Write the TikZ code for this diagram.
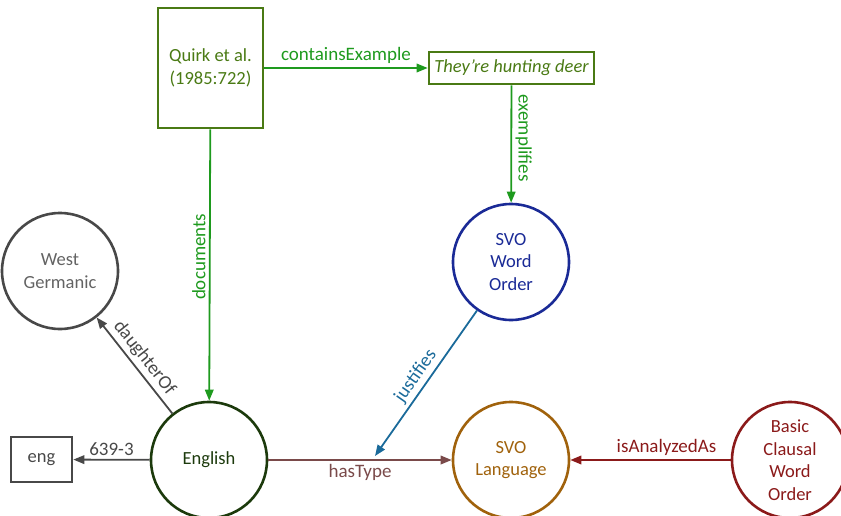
\documentclass[tikz,border=0pt]{standalone}
\usepackage{fontspec}
\setmainfont{Carlito}
\usetikzlibrary{arrows.meta}
\definecolor{olive}{HTML}{4A7A14}
\definecolor{edgegreen}{HTML}{1E9A1E}
\definecolor{grayish}{HTML}{484848}
\definecolor{navy}{HTML}{1A2A96}
\definecolor{darkgreen}{HTML}{1C3A0C}
\definecolor{amber}{HTML}{A0620C}
\definecolor{maroon}{HTML}{8B1A1A}
\definecolor{mauve}{HTML}{7A4A4A}
\definecolor{steel}{HTML}{1A6A9A}

\begin{document}
\begin{tikzpicture}[x=1pt, y=-1pt, font=\fontsize{18.5}{22.5}\selectfont,
    concept/.style={circle, draw, line width=2.6pt, minimum size=116pt, inner sep=0pt, align=center},
    source/.style={draw, line width=2.6pt, inner sep=0pt, align=center},
    rel/.style={line width=1.8pt, -{Triangle[length=11pt,width=8.5pt]}},
    lbl/.style={font=\fontsize{19}{22}\selectfont}]
    \useasboundingbox (0,0) rectangle (841,516);
    \node[source, olive, minimum width=105pt, minimum height=120pt] (quirk) at (210.5,68) {Quirk et al.\\(1985:722)};
    \node[source, olive, minimum width=165pt, minimum height=32pt, font=\fontsize{18.5}{22.5}\selectfont\itshape] (deer) at (511.5,68) {They're hunting deer};
    \node[concept, grayish, text=grayish!85] (westger) at (60,271) {West\\Germanic};
    \node[concept, navy] (svowo) at (511,262) {SVO\\Word\\Order};
    \node[concept, darkgreen] (english) at (209,460) {English};
    \node[concept, amber] (svolang) at (511,460) {SVO\\Language};
    \node[concept, maroon] (basic) at (790,460) {Basic\\Clausal\\Word\\Order};
    \node[source, grayish, minimum width=61pt, minimum height=45pt] (eng) at (41.5,459.5) {eng};
    \draw[rel, edgegreen] (quirk) -- (deer) node[lbl, midway, above] {containsExample};
    \draw[rel, edgegreen] (deer) -- (svowo) node[lbl, pos=.45, anchor=south, rotate=-90] {exemplifies};
    \draw[rel, edgegreen] (quirk) -- (english) node[lbl, pos=.47, anchor=south, rotate=90] {documents};
    \draw[rel, grayish] (english) -- (westger) node[lbl, midway, above, sloped] {daughterOf};
    \draw[rel, grayish] (english) -- (eng) node[lbl, midway, above] {639-3};
    \draw[rel, mauve] (english) -- (svolang) node[lbl, midway, below] {hasType};
    \coordinate (jt) at (375,456);
    \draw[rel, steel] (svowo) -- (jt) node[lbl, midway, above, sloped] {justifies};
    \draw[rel, maroon] (basic) -- (svolang) node[lbl, pos=.4, above] {isAnalyzedAs};
\end{tikzpicture}
\end{document}
